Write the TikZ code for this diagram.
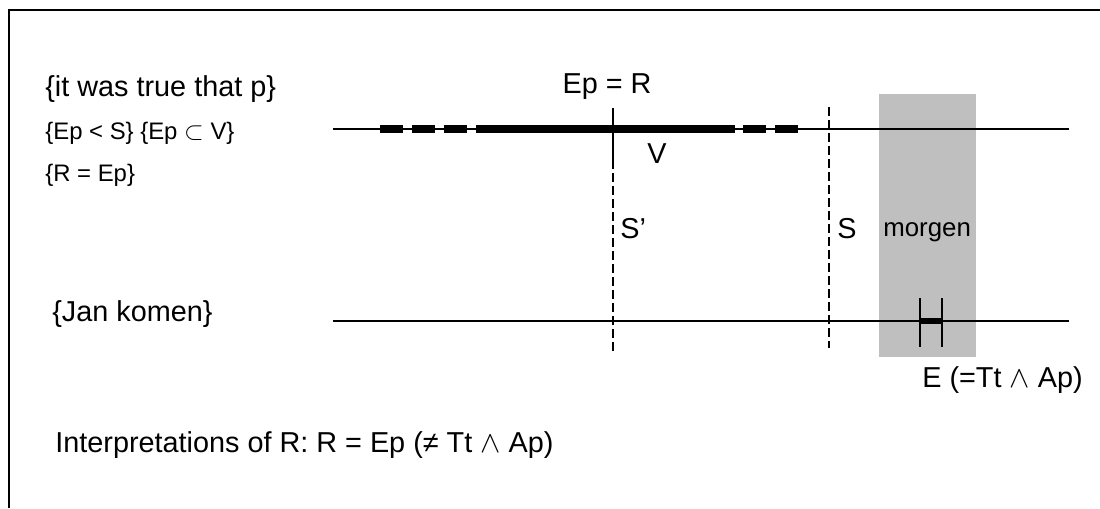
\documentclass[tikz,border=0pt]{standalone}
\usepackage{fontspec}
\setmainfont{Liberation Sans}
\usetikzlibrary{positioning}

\newcommand*{\lineleft}{333}
\newcommand*{\lineright}{1069}
\newcommand*{\upy}{129}
\newcommand*{\lowy}{321}

\begin{document}
\begin{tikzpicture}
[
	x=0.02cm, y=-0.02cm,
	bigtxt/.style={inner sep=0pt, anchor=base west, font=\fontsize{16.4}{18}\selectfont},
	smalltxt/.style={inner sep=0pt, anchor=base west, font=\fontsize{13.6}{15}\selectfont},
	timeline/.style={line width=1.1pt},
	marker/.style={dash pattern=on 5.1pt off 2.3pt, line width=1.1pt},
	interval/.style={line width=4.5pt},
	bar/.style={line width=1.7pt}
]
	\useasboundingbox (0,0) rectangle (1100,508);

	% frame
	\draw[line width=1.7pt] (9,508) -- (9,10) -- (1100,10);

	% fills
	\fill[black!25] (879,94) rectangle (976,357);

	% labels left
	\node[bigtxt] (truep) at (45,96) {\{it was true that p\}};
	\node[smalltxt] (epsv) at (45,139) {\{Ep < S\} \{Ep $\subset$ V\}};
	\node[smalltxt] (req) at (45,181) {\{R = Ep\}};
	\node[bigtxt] (jan) at (52,321) {\{Jan komen\}};
	\node[bigtxt] (interp) at (55,452) {Interpretations of R: R = Ep (≠ Tt $\wedge$ Ap)};

	% time lines
	\coordinate (upl) at (\lineleft,\upy);
	\coordinate (upr) at (\lineright,\upy);
	\coordinate (lowl) at (\lineleft,\lowy);
	\coordinate (lowr) at (\lineright,\lowy);
	\draw[timeline] (upl) -- (upr);
	\draw[timeline] (lowl) -- (lowr);

	% V and Ep
	\coordinate (vl) at (380,\upy);
	\coordinate (vlx) at (470,\upy);
	\coordinate (epl) at (476,\upy);
	\coordinate (epr) at (735,\upy);
	\coordinate (vrx) at (743,\upy);
	\coordinate (vr) at (798,\upy);
	\draw[interval] (epl) -- (epr);
	\draw[interval, dash pattern=on 13.3pt off 4.8pt] (vl) -- (vlx);
	\draw[interval, dash pattern=on 13.3pt off 4.8pt] (vrx) -- (vr);

	% S' and S
	\coordinate (rtop) at (613,108);
	\coordinate (rmid) at (613,160);
	\coordinate (sprime) at (613,352);
	\coordinate (stop) at (829,107);
	\coordinate (sbot) at (829,348);
	\draw[bar, line width=1.2pt] (rtop) -- (rmid);
	\draw[marker] (rmid) -- (sprime);
	\draw[marker] (stop) -- (sbot);
	\node[bigtxt, anchor=base] (epr-lbl) at (607,93) {Ep = R};
	\node[bigtxt] (v-lbl) at (647,163) {V};
	\node[bigtxt] (sp-lbl) at (620,238) {S’};
	\node[bigtxt] (s-lbl) at (837,238) {S};
	\node[inner sep=0pt, anchor=base west, font=\fontsize{14.7}{16}\selectfont] (morgen) at (883,236) {morgen};

	% event
	\coordinate (el) at (920,\lowy);
	\coordinate (er) at (942,\lowy);
	\draw[bar] (920,298) -- (920,347);
	\draw[bar] (942,298) -- (942,347);
	\draw[line width=3.4pt] (el) -- (er);
	\node[bigtxt] (e-lbl) at (922,387) {E (=Tt $\wedge$ Ap)};

\end{tikzpicture}
\end{document}
